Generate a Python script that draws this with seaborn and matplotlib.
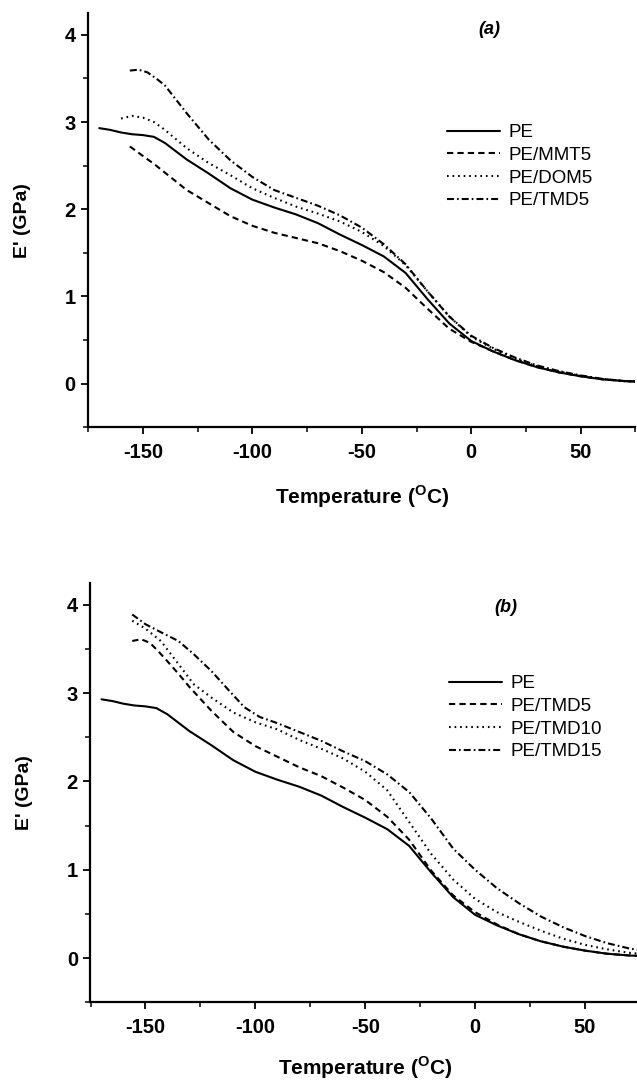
import numpy as np
import pandas as pd
import matplotlib
matplotlib.use("Agg")
import matplotlib.pyplot as plt
import seaborn as sns
from matplotlib.ticker import MultipleLocator

# ---------------- data ----------------
pe_T = [-170, -165, -160, -155, -150, -145, -140, -130, -120, -110, -100, -90, -80, -70,
        -60, -50, -40, -30, -20, -10, 0, 10, 20, 30, 40, 50, 60, 70, 75]
pe_E = [2.93, 2.91, 2.88, 2.86, 2.85, 2.83, 2.76, 2.57, 2.41, 2.24, 2.11, 2.02, 1.94, 1.84,
        1.71, 1.59, 1.46, 1.27, 0.97, 0.69, 0.49, 0.37, 0.27, 0.19, 0.13, 0.085, 0.05, 0.03, 0.025]

mmt5_T = [-156, -150, -145, -140, -130, -120, -110, -100, -90, -80, -70, -60, -50, -40,
          -30, -20, -10, 0, 10, 20, 30, 40, 50, 60, 70, 75]
mmt5_E = [2.72, 2.61, 2.52, 2.42, 2.22, 2.07, 1.92, 1.81, 1.73, 1.67, 1.61, 1.52, 1.41, 1.28,
          1.10, 0.86, 0.63, 0.48, 0.37, 0.27, 0.19, 0.13, 0.085, 0.05, 0.03, 0.025]

dom5_T = [-160, -155, -150, -145, -140, -130, -120, -110, -100, -90, -80, -70, -60, -50,
          -40, -30, -20, -10, 0, 10, 20, 30, 40, 50, 60, 70, 75]
dom5_E = [3.04, 3.07, 3.05, 3.00, 2.91, 2.70, 2.53, 2.39, 2.24, 2.13, 2.03, 1.95, 1.86, 1.74,
          1.58, 1.36, 1.06, 0.77, 0.54, 0.40, 0.29, 0.20, 0.14, 0.09, 0.055, 0.03, 0.025]

tmd5a_T = [-156, -152, -148, -144, -140, -135, -130, -120, -110, -100, -90, -80, -70, -60,
           -50, -40, -30, -20, -10, 0, 10, 20, 30, 40, 50, 60, 70, 75]
tmd5a_E = [3.59, 3.60, 3.57, 3.50, 3.42, 3.26, 3.10, 2.80, 2.56, 2.37, 2.22, 2.13, 2.04, 1.93,
           1.79, 1.60, 1.37, 1.06, 0.77, 0.55, 0.41, 0.30, 0.21, 0.145, 0.095, 0.055, 0.03, 0.025]

tmd5b_T = [-156, -152, -148, -144, -140, -135, -130, -120, -110, -100, -90, -80, -70, -60,
           -50, -40, -30, -20, -10, 0, 10, 20, 30, 40, 50, 60, 70, 75]
tmd5b_E = [3.59, 3.61, 3.57, 3.47, 3.36, 3.22, 3.07, 2.80, 2.56, 2.40, 2.28, 2.16, 2.06, 1.93,
           1.79, 1.60, 1.34, 0.99, 0.71, 0.52, 0.38, 0.27, 0.19, 0.13, 0.085, 0.05, 0.03, 0.025]

tmd10_T = [-156, -150, -143, -135, -128, -120, -110, -100, -90, -80, -70, -60, -50, -40,
           -30, -20, -10, 0, 10, 20, 30, 40, 50, 60, 70, 75]
tmd10_E = [3.82, 3.73, 3.59, 3.33, 3.10, 2.95, 2.78, 2.67, 2.59, 2.47, 2.37, 2.26, 2.11, 1.90,
           1.54, 1.18, 0.89, 0.67, 0.52, 0.41, 0.31, 0.22, 0.15, 0.10, 0.06, 0.05]

tmd15_T = [-156, -150, -143, -135, -128, -120, -112, -105, -98, -90, -80, -70, -60, -50,
           -40, -30, -20, -10, 0, 10, 20, 30, 40, 50, 60, 70, 75]
tmd15_E = [3.89, 3.78, 3.69, 3.59, 3.44, 3.25, 3.03, 2.84, 2.73, 2.66, 2.56, 2.46, 2.34, 2.23,
           2.08, 1.88, 1.58, 1.24, 1.00, 0.79, 0.62, 0.47, 0.35, 0.25, 0.17, 0.11, 0.09]

labels_a = ["PE", "PE/MMT5", "PE/DOM5", "PE/TMD5"]
labels_b = ["PE", "PE/TMD5", "PE/TMD10", "PE/TMD15"]
xticks = [-150, -100, -50, 0, 50]
yticks = [0, 1, 2, 3, 4]

# ---------------- styling ----------------
sns.set_theme(style="ticks")
plt.rcParams["font.family"] = ["Liberation Sans", "DejaVu Sans"]
plt.rcParams["mathtext.fontset"] = "custom"
plt.rcParams["mathtext.rm"] = "Liberation Sans"
plt.rcParams["mathtext.bf"] = "Liberation Sans:bold"
plt.rcParams["lines.scale_dashes"] = False
plt.rcParams["axes.unicode_minus"] = False
for k in ["text.color", "axes.labelcolor", "xtick.color", "ytick.color",
          "xtick.labelcolor", "ytick.labelcolor", "axes.edgecolor"]:
    plt.rcParams[k] = "black"

LS_SOLID = "-"
LS_DASH = (0, (4.5, 3.0))
LS_DOT = (0, (1.2, 2.8))
LS_DASHDOT = (0, (5.0, 2.2, 1.2, 2.2))

fig = plt.figure(figsize=(6.37, 10.81), dpi=100)
ax_a = fig.add_axes([88.3 / 637, 1 - 427.3 / 1081, (635.3 - 88.3) / 637, (427.3 - 13) / 1081])
ax_b = fig.add_axes([90.5 / 637, 1 - 1002.3 / 1081, (640.0 - 90.5) / 637, (1002.3 - 582.7) / 1081])


def draw(ax, series, labels, styles, tag, tagpos, legpos, xpad):
    for (T, E), lab, ls in zip(series, labels, styles):
        df = pd.DataFrame({"T": T, "E": E})
        sns.lineplot(data=df, x="T", y="E", ax=ax, color="black", linewidth=1.5,
                     linestyle=ls, label=lab, estimator=None, sort=False)
    ax.set_xlim(-175, 75)
    ax.set_ylim(-0.5, 4.25)
    ax.set_xticks(xticks)
    ax.set_yticks(yticks)
    ax.xaxis.set_minor_locator(MultipleLocator(25))
    ax.yaxis.set_minor_locator(MultipleLocator(0.5))
    for s in ["top", "right"]:
        ax.spines[s].set_visible(False)
    for s in ["left", "bottom"]:
        ax.spines[s].set_linewidth(1.6)
        ax.spines[s].set_color("black")
    ax.tick_params(which="major", direction="out", length=5, width=1.3, colors="black",
                   labelsize=14.5)
    ax.tick_params(axis="x", which="major", pad=6)
    ax.tick_params(axis="y", which="major", pad=4)
    ax.tick_params(which="minor", direction="out", length=3.5, width=1.1, colors="black")
    for t in ax.get_xticklabels() + ax.get_yticklabels():
        t.set_fontweight("bold")
    ax.set_xlabel(r"Temperature ($^{\mathbf{O}}$C)", fontsize=15, fontweight="bold",
                  labelpad=xpad)
    ax.set_ylabel("E' (GPa)", fontsize=14, fontweight="bold", labelpad=24)
    ax.text(tagpos[0], tagpos[1], tag, transform=ax.transAxes, fontsize=13,
            fontweight="bold", fontstyle="italic", ha="center", va="center")
    leg = ax.legend(loc="center left", bbox_to_anchor=legpos, frameon=False, fontsize=13.5,
                    handlelength=2.8, handletextpad=0.45, labelspacing=0.3, borderpad=0,
                    borderaxespad=0)
    for h in leg.get_lines():
        h.set_linewidth(1.5)
        h.set_color("black")
    for t in leg.get_texts():
        t.set_color("black")


draw(ax_a,
     [(pe_T, pe_E), (mmt5_T, mmt5_E), (dom5_T, dom5_E), (tmd5a_T, tmd5a_E)],
     labels_a, [LS_SOLID, LS_DASH, LS_DOT, LS_DASHDOT],
     "(a)", (0.734, 0.959), (0.656, 0.629), 16)
draw(ax_b,
     [(pe_T, pe_E), (tmd5b_T, tmd5b_E), (tmd10_T, tmd10_E), (tmd15_T, tmd15_E)],
     labels_b, [LS_SOLID, LS_DASH, LS_DOT, LS_DASHDOT],
     "(b)", (0.755, 0.94), (0.653, 0.678), 13)

fig.savefig("out.png", dpi=100, facecolor="white")
